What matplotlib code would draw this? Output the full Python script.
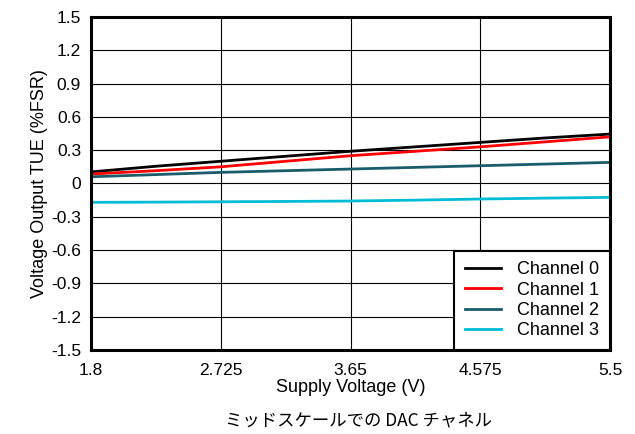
import matplotlib
matplotlib.use("Agg")
import matplotlib.pyplot as plt

supply_v = [1.8, 2.2625, 2.725, 3.1875, 3.65, 4.1125, 4.575, 5.0375, 5.5]
ch0 = [0.104, 0.155, 0.200, 0.245, 0.290, 0.330, 0.370, 0.410, 0.445]
ch1 = [0.085, 0.115, 0.150, 0.200, 0.250, 0.290, 0.330, 0.375, 0.420]
ch2 = [0.060, 0.080, 0.100, 0.115, 0.130, 0.145, 0.160, 0.175, 0.190]
ch3 = [-0.170, -0.168, -0.165, -0.162, -0.158, -0.150, -0.140, -0.132, -0.125]
series = [("Channel 0", ch0, "#000000"), ("Channel 1", ch1, "#ff0000"),
          ("Channel 2", ch2, "#1b5c6b"), ("Channel 3", ch3, "#00bcd4")]
xticks = [1.8, 2.725, 3.65, 4.575, 5.5]
xticklabels = ["1.8", "2.725", "3.65", "4.575", "5.5"]
yticks = [-1.5, -1.2, -0.9, -0.6, -0.3, 0, 0.3, 0.6, 0.9, 1.2, 1.5]
yticklabels = ["-1.5", "-1.2", "-0.9", "-0.6", "-0.3", "0", "0.3", "0.6", "0.9", "1.2", "1.5"]

plt.rcParams['font.family'] = ['Liberation Sans', 'DejaVu Sans']
fig = plt.figure(figsize=(6.35, 4.34), dpi=100)
ax = fig.add_axes([0.143, 0.1935, 0.818, 0.7675])
for name, vals, c in series:
    ax.plot(supply_v, vals, color=c, lw=2.0, label=name)
ax.set_xlim(1.8, 5.5)
ax.set_ylim(-1.5, 1.5)
ax.set_xticks(xticks)
ax.set_xticklabels(xticklabels)
ax.set_yticks(yticks)
ax.set_yticklabels(yticklabels)
ax.tick_params(axis="y", length=0, labelsize=12.5, pad=7)
ax.tick_params(axis="x", length=0, labelsize=12.5, pad=9)
ax.grid(True, color="black", lw=0.8)
for s in ax.spines.values():
    s.set_linewidth(2.2)
ax.set_xlabel("Supply Voltage (V)", fontsize=13, labelpad=1)
ax.set_ylabel("Voltage Output TUE (%FSR)", fontsize=13, labelpad=2)
leg = ax.legend(loc="lower right", fontsize=13, frameon=True, fancybox=False,
                borderaxespad=0, handlelength=2.0, labelspacing=0.18,
                borderpad=0.6, handletextpad=0.9)
leg.get_frame().set_edgecolor("black")
leg.get_frame().set_linewidth(1.5)
leg.get_frame().set_alpha(1)
fig.text(0.565, 0.032, "ミッドスケールでの DAC チャネル", ha="center", va="center",
         fontsize=12.5, family=['Noto Sans CJK JP', 'DejaVu Sans'])
fig.savefig("out.png", dpi=100)
